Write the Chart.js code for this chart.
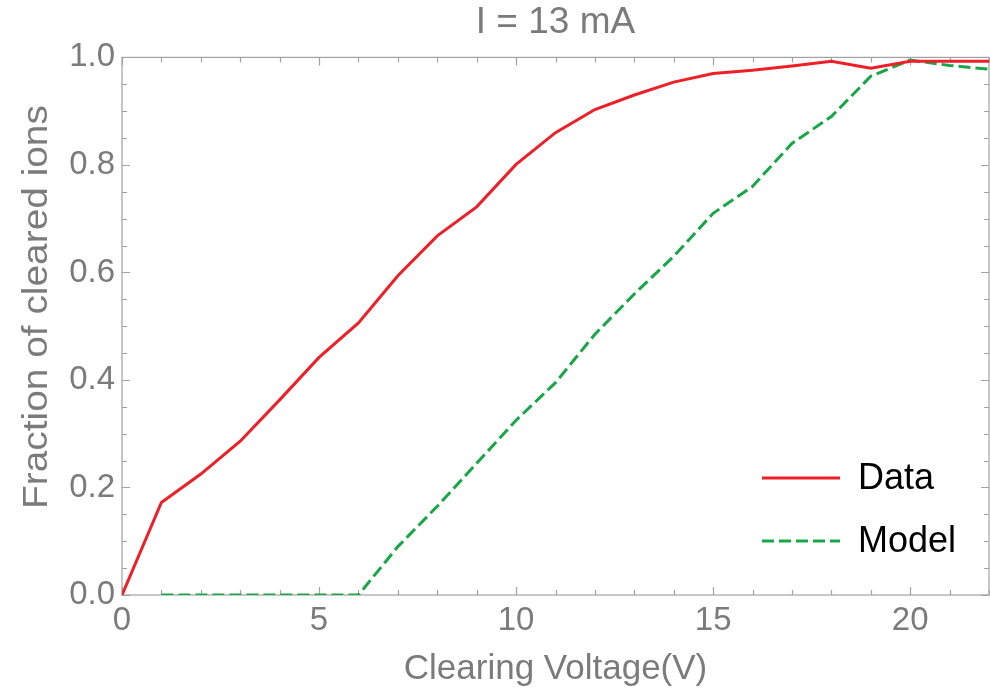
<!DOCTYPE html>
<html>
<head>
<meta charset="utf-8">
<script src="https://cdn.jsdelivr.net/npm/chart.js@4.4.1/dist/chart.umd.min.js"></script>
<style>
  html, body { margin: 0; padding: 0; background: #fff; }
  canvas { display: block; }
</style>
</head>
<body>
<canvas id="ionChart" width="990" height="692"></canvas>
<script>
// clearing voltage (V) and fraction of cleared ions, I = 13 mA
const voltage = [0, 1, 2, 3, 4, 5, 6, 7, 8, 9, 10, 11, 12, 13, 14, 15, 16, 17, 18, 19, 20, 21, 22];
const measured = [0, 0.172, 0.225, 0.286, 0.363, 0.442, 0.506, 0.594, 0.668, 0.722, 0.801, 0.860,
  0.903, 0.930, 0.954, 0.970, 0.976, 0.984, 0.993, 0.980, 0.993, 0.993, 0.993];
const model = [null, 0, 0, 0, 0, 0, 0, 0.09, 0.165, 0.245, 0.325, 0.395,
  0.485, 0.56, 0.63, 0.71, 0.76, 0.84, 0.89, 0.965, 0.995, 0.985, 0.978];
const xTicks = [0, 5, 10, 15, 20];
const yTicks = [0, 0.2, 0.4, 0.6, 0.8, 1.0];
const yTitle = "Fraction of cleared ions";

const GREY = "#7b7b7b";
const AXIS = "#a2a2a2";
const FONT = "'Liberation Sans', Arial, sans-serif";

function points(ys) {
  return voltage.map((v, i) => ({ x: v, y: ys[i] }));
}

// frame with inward major/minor ticks on all four sides
const framePlugin = {
  id: "frame",
  beforeDatasetsDraw(chart) {
    const { ctx, chartArea: a, scales: { x, y } } = chart;
    ctx.save();
    ctx.strokeStyle = AXIS;
    ctx.lineWidth = 1.2;
    ctx.strokeRect(a.left, a.top, a.right - a.left, a.bottom - a.top);
    ctx.beginPath();
    for (let v = 0; v <= 22; v += 1) {
      const px = Math.round(x.getPixelForValue(v)) + 0.5;
      const len = v % 5 === 0 ? 8 : 5;
      ctx.moveTo(px, a.bottom); ctx.lineTo(px, a.bottom - len);
      ctx.moveTo(px, a.top); ctx.lineTo(px, a.top + len);
    }
    for (let k = 0; k <= 20; k++) {
      const py = Math.round(y.getPixelForValue(k * 0.05)) + 0.5;
      const len = k % 4 === 0 ? 8 : 5;
      ctx.moveTo(a.left, py); ctx.lineTo(a.left + len, py);
      ctx.moveTo(a.right, py); ctx.lineTo(a.right - len, py);
    }
    ctx.stroke();
    ctx.restore();
  }
};

// rotated y-axis caption, slightly stretched along its length
const yTitlePlugin = {
  id: "yTitle",
  afterDraw(chart) {
    const { ctx } = chart;
    ctx.save();
    ctx.translate(37, 307);
    ctx.rotate(-Math.PI / 2);
    ctx.scale(1.11, 1);
    ctx.fillStyle = GREY;
    ctx.font = "35px " + FONT;
    ctx.textAlign = "center";
    ctx.textBaseline = "middle";
    ctx.fillText(yTitle, 0, 0);
    ctx.restore();
  }
};

// legend in the lower right of the plot
const legendPlugin = {
  id: "innerLegend",
  afterDraw(chart) {
    const { ctx } = chart;
    const rows = [478, 541];
    ctx.save();
    chart.data.datasets.forEach((ds, i) => {
      const yy = rows[i];
      ctx.strokeStyle = ds.borderColor;
      ctx.lineWidth = ds.borderWidth;
      ctx.setLineDash(ds.borderDash || []);
      ctx.beginPath();
      ctx.moveTo(762, yy);
      ctx.lineTo(840, yy);
      ctx.stroke();
      ctx.setLineDash([]);
      ctx.fillStyle = "#000";
      ctx.font = "36px " + FONT;
      ctx.textBaseline = "middle";
      ctx.fillText(ds.label, 858, yy + 1);
    });
    ctx.restore();
  }
};

new Chart(document.getElementById("ionChart"), {
  type: "line",
  data: {
    datasets: [
      {
        label: "Data",
        data: points(measured),
        borderColor: "#ee1f26",
        borderWidth: 3,
        pointRadius: 0,
        tension: 0
      },
      {
        label: "Model",
        data: points(model),
        borderColor: "#17a746",
        borderWidth: 3,
        borderDash: [12, 5],
        pointRadius: 0,
        tension: 0,
        spanGaps: false
      }
    ]
  },
  options: {
    responsive: false,
    animation: false,
    devicePixelRatio: 1,
    layout: { padding: { left: 0, right: 1, top: 0, bottom: 0 } },
    plugins: {
      legend: { display: false },
      tooltip: { enabled: false },
      title: {
        display: true,
        fullSize: false,
        text: "I = 13 mA",
        color: GREY,
        font: { family: FONT, size: 37, weight: "normal" },
        padding: { top: 1, bottom: 12 }
      }
    },
    scales: {
      x: {
        type: "linear",
        min: 0,
        max: 22,
        afterFit: s => { s.height = 97; },
        afterBuildTicks: s => { s.ticks = xTicks.map(v => ({ value: v })); },
        grid: { display: false, drawTicks: false },
        border: { display: false },
        ticks: {
          color: GREY,
          padding: 6,
          maxRotation: 0,
          font: { family: FONT, size: 33 }
        },
        title: {
          display: true,
          text: "Clearing Voltage(V)",
          color: GREY,
          font: { family: FONT, size: 35 },
          padding: { top: 0, bottom: 2 }
        }
      },
      y: {
        min: 0,
        max: 1,
        afterFit: s => { s.width = 122; },
        afterBuildTicks: s => { s.ticks = yTicks.map(v => ({ value: v })); },
        grid: { display: false, drawTicks: false },
        border: { display: false },
        ticks: {
          color: GREY,
          padding: 7,
          font: { family: FONT, size: 33 },
          callback: v => v.toFixed(1)
        }
      }
    }
  },
  plugins: [framePlugin, yTitlePlugin, legendPlugin]
});
</script>
</body>
</html>
